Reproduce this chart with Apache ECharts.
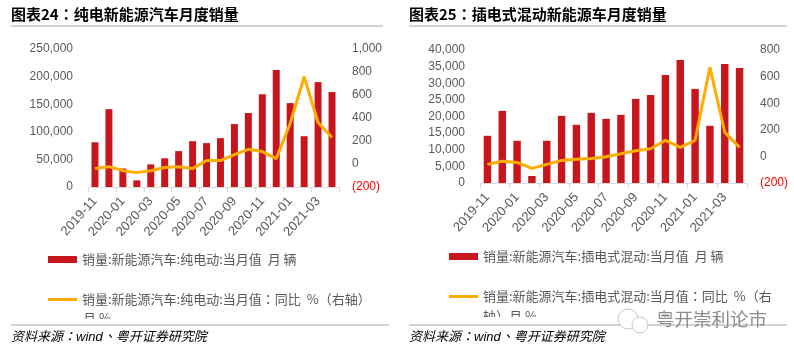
<!DOCTYPE html>
<html>
<head>
<meta charset="utf-8">
<style>
html, body { margin: 0; padding: 0; background: #fff; }
#main { width: 794px; height: 356px; }
</style>
<script src="https://cdn.jsdelivr.net/npm/echarts@6/dist/echarts.min.js"></script>
</head>
<body>
<div id="main"></div>
<script>
const months = ['2019-11', '2019-12', '2020-01', '2020-02', '2020-03', '2020-04', '2020-05', '2020-06', '2020-07',
  '2020-08', '2020-09', '2020-10', '2020-11', '2020-12', '2021-01', '2021-02', '2021-03', '2021-04']

// 图表24 纯电
const bevSales = [81000, 141000, 33500, 12000, 41000, 52000, 65000, 83000, 79500, 88500, 114000, 134000, 168000, 212000, 152000, 92000, 190000, 172000]
const bevYoy = [-40, -23, -58, -75, -58, -31, -23, -40, 30, 30, 82, 128, 108, 47, 352, 759, 361, 230]
// 图表25 插电式混动
const phevSales = [14200, 21700, 12700, 2100, 12700, 20200, 17500, 21100, 19300, 20500, 25300, 26500, 32500, 37000, 28300, 17200, 35800, 34600]
const phevYoy = [-60, -37, -45, -90, -60, -30, -22, -15, -2, 20, 43, 58, 121, 68, 121, 670, 181, 68]

const bevBarName = '销量:新能源汽车:纯电动:当月值  月 辆'
const bevLineName = '销量:新能源汽车:纯电动:当月值：同比  %（右轴）'
const phevBarName = '销量:新能源汽车:插电式混动:当月值  月 辆'
const phevLineName = '销量:新能源汽车:插电式混动:当月值：同比  %（右'

const latin = '"Liberation Sans", "Noto Sans CJK TC", sans-serif'
const cjk = '"Noto Sans CJK TC", sans-serif'
const gray = '#595959'
const red = '#C7161D'
const orange = '#FFAB00'

function xAxis (gridIndex) {
  return {
    type: 'category',
    gridIndex,
    data: months,
    axisLine: { lineStyle: { color: '#d9d9d9' } },
    axisTick: { show: true, interval: 1, length: 5, lineStyle: { color: '#d9d9d9' } },
    axisLabel: { interval: 1, rotate: 48, margin: 12, fontSize: 13, color: gray, fontFamily: latin }
  }
}

function leftAxis (gridIndex, max, interval) {
  return {
    type: 'value',
    gridIndex,
    min: 0,
    max,
    interval,
    splitLine: { show: false },
    axisLine: { show: false },
    axisTick: { show: false },
    axisLabel: { margin: 15, padding: [5, 0, 0, 0], fontSize: 12, color: gray, fontFamily: latin }
  }
}

function rightAxis (gridIndex, max) {
  return {
    type: 'value',
    gridIndex,
    position: 'right',
    min: -200,
    max,
    interval: 200,
    splitLine: { show: false },
    axisLine: { show: false },
    axisTick: { show: false },
    axisLabel: {
      margin: 13,
      padding: [5, 0, 0, 0],
      fontSize: 12,
      fontFamily: latin,
      color: (v) => (v < 0 ? '#FF0000' : gray),
      formatter: (v) => (v < 0 ? '(' + Math.abs(v) + ')' : v.toLocaleString('en-US'))
    }
  }
}

function barSeries (name, data, idx) {
  return { name, type: 'bar', xAxisIndex: idx, yAxisIndex: idx * 2, data, barWidth: '50%', itemStyle: { color: red } }
}

function lineSeries (name, data, idx) {
  return {
    name,
    type: 'line',
    xAxisIndex: idx,
    yAxisIndex: idx * 2 + 1,
    data,
    symbol: 'none',
    lineStyle: { color: orange, width: 3 },
    itemStyle: { color: orange }
  }
}

function legend (name, left, top, height) {
  return {
    data: [name],
    left,
    top,
    padding: 0,
    icon: 'rect',
    itemWidth: 29,
    itemHeight: height,
    textStyle: { fontSize: 13, color: gray, fontFamily: cjk }
  }
}

function label (x, y, text, font, fill, z) {
  return { type: 'text', x, y, z: z || 5, style: { text, font, fill } }
}

function rule (x1, x2, y) {
  return { type: 'line', z: 6, shape: { x1, y1: y, x2, y2: y }, style: { stroke: '#a6a6a6', lineWidth: 1 } }
}

function cover (x, y, width, height) {
  return { type: 'rect', z: 4, shape: { x, y, width, height }, style: { fill: '#fff' } }
}

const titleFont = 'bold 15px ' + cjk
const sourceFont = 'italic 13px ' + latin
const legendFont = '13px ' + cjk

const option = {
  animation: false,
  backgroundColor: '#fff',
  grid: [
    { left: 88, right: 455, top: 49, bottom: 169 },
    { left: 480, right: 47, top: 50, bottom: 173 }
  ],
  xAxis: [xAxis(0), xAxis(1)],
  yAxis: [
    leftAxis(0, 250000, 50000), rightAxis(0, 1000),
    leftAxis(1, 40000, 5000), rightAxis(1, 800)
  ],
  legend: [
    legend(bevBarName, 48, 253, 7),
    legend(bevLineName, 48, 293, 3),
    legend(phevBarName, 449, 250, 7),
    legend(phevLineName, 449, 290, 3)
  ],
  series: [
    barSeries(bevBarName, bevSales, 0),
    lineSeries(bevLineName, bevYoy, 0),
    barSeries(phevBarName, phevSales, 1),
    lineSeries(phevLineName, phevYoy, 1)
  ],
  graphic: [
    label(11, 7, '图表24：纯电新能源汽车月度销量', titleFont, '#000'),
    label(409, 7, '图表25：插电式混动新能源车月度销量', titleFont, '#000'),
    rule(11, 383, 26),
    rule(409, 787, 26),
    // 图例折行的第二行，下半截被遮住
    label(83, 312, '月 %', legendFont, gray, 3),
    label(483, 310, '轴）月 %', legendFont, gray, 3),
    cover(60, 319, 120, 6),
    cover(470, 317, 120, 8),
    rule(11, 389, 325),
    rule(409, 787, 325),
    label(11, 331, '资料来源：wind、粤开证券研究院', sourceFont, '#000'),
    label(409, 331, '资料来源：wind、粤开证券研究院', sourceFont, '#000'),
    // 水印
    { type: 'circle', z: 7, shape: { cx: 628, cy: 319, r: 10 }, style: { fill: '#fff', stroke: '#c8c8c8', lineWidth: 1 } },
    { type: 'circle', z: 7, shape: { cx: 640, cy: 325, r: 8 }, style: { fill: '#fff', stroke: '#c8c8c8', lineWidth: 1 } },
    label(656, 310, '粤开崇利论市', '18.5px ' + cjk, '#8c8c8c', 7)
  ]
}

const chart = echarts.init(document.getElementById('main'))
chart.setOption(option)
</script>
</body>
</html>
